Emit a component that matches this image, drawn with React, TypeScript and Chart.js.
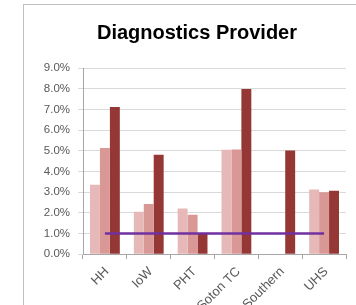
import React, { useEffect, useRef } from "react";
import { Chart, registerables } from "chart.js";
Chart.register(...registerables);

const categories = ["HH", "IoW", "PHT", "Soton TC", "Southern", "UHS"];
const series1 = [3.35, 2.05, 2.21, 5.05, 0, 3.12];
const series2 = [5.13, 2.43, 1.91, 5.06, 0, 2.99];
const series3 = [7.12, 4.81, 0.98, 7.98, 5.01, 3.07];
const target = [1, 1, 1, 1, 1, 1];
const yTicks = [0, 1, 2, 3, 4, 5, 6, 7, 8, 9];

export default function App() {
  const ref = useRef<HTMLCanvasElement | null>(null);
  useEffect(() => {
    if (!ref.current) return;
    const chart = new Chart(ref.current, {
      type: "bar",
      data: {
        labels: categories,
        datasets: [
          {
            type: "line",
            label: "Target",
            data: target,
            borderColor: "#7030A0",
            borderWidth: 2.5,
            pointRadius: 0,
            fill: false,
            order: 0,
          } as any,
          { label: "S1", data: series1, backgroundColor: "#E6B9B8", order: 1 },
          { label: "S2", data: series2, backgroundColor: "#D99795", order: 1 },
          { label: "S3", data: series3, backgroundColor: "#953735", order: 1 },
        ],
      },
      options: {
        responsive: false,
        animation: false,
        devicePixelRatio: 1,
        datasets: { bar: { categoryPercentage: 0.68, barPercentage: 1 } },
        layout: { padding: 0 },
        plugins: {
          legend: { display: false },
          tooltip: { enabled: false },
          title: {
            display: true,
            text: "Diagnostics Provider",
            color: "#000000",
            font: { family: "Liberation Sans", size: 20, weight: "bold", lineHeight: 1.2 },
            padding: { top: 16, bottom: 23 },
          },
        },
        scales: {
          x: {
            grid: {
              display: true,
              drawOnChartArea: false,
              drawTicks: true,
              tickLength: 5,
              color: "#A6A6A6",
              offset: true,
            },
            border: { color: "#A6A6A6" },
            ticks: {
              color: "#595959",
              font: { family: "Liberation Sans", size: 13 },
              maxRotation: 45,
              minRotation: 45,
              padding: 5,
              labelOffset: 2,
            },
          },
          y: {
            min: 0,
            max: 9,
            afterBuildTicks: (axis: any) => {
              axis.ticks = yTicks.map((v) => ({ value: v }));
            },
            afterFit: (s: any) => {
              s.width = 59;
            },
            grid: { color: "#D9D9D9", tickLength: 5 },
            border: { color: "#A6A6A6" },
            ticks: {
              color: "#595959",
              font: { family: "Liberation Sans", size: 11.5 },
              padding: 8,
              callback: (v: any) => Number(v).toFixed(1) + "%",
            },
          },
          y2: {
            position: "right",
            display: true,
            min: 0,
            max: 9,
            grid: { display: false, drawTicks: false },
            border: { display: false },
            ticks: { display: false },
            afterFit: (s: any) => {
              s.width = 24;
            },
          },
        },
      },
    });
    return () => chart.destroy();
  }, []);
  return (
    <div
      style={{
        position: "fixed",
        left: 0,
        top: 0,
        width: 356,
        height: 305,
        overflow: "hidden",
        background: "#ffffff",
      }}
    >
      <div
        style={{
          position: "absolute",
          left: 23,
          top: 4,
          width: 360,
          height: 330,
          borderLeft: "1px solid #BFBFBF",
          borderTop: "1px solid #BFBFBF",
        }}
      >
        <canvas
          ref={ref}
          width={346}
          height={314}
          style={{ width: 346, height: 314, display: "block" }}
        />
      </div>
    </div>
  );
}
